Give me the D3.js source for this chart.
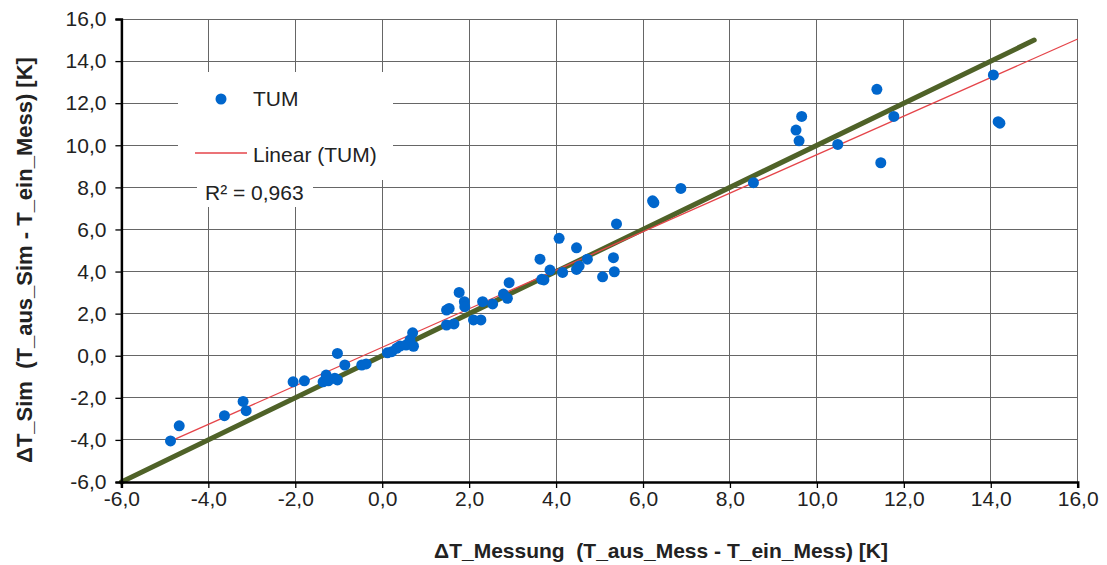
<!DOCTYPE html>
<html><head><meta charset="utf-8">
<script src="https://cdn.jsdelivr.net/npm/d3@7"></script>
<style>body{margin:0;background:#fff} text{font-family:Arial,"Liberation Sans",sans-serif;white-space:pre}</style>
</head><body><svg id="c" width="1107" height="565"></svg>
<script>
// ---- data ----
const xMeas = [-4.87,-4.67,-3.63,-3.20,-3.13,-2.05,-1.79,-1.36,-1.29,-1.24,-1.09,-1.03,-1.03,-0.86,-0.47,-0.37,
  0.12,0.22,0.33,0.41,0.55,0.64,0.70,0.72,1.48,1.54,1.48,1.65,1.77,1.89,1.90,2.10,2.27,2.31,2.54,2.79,2.88,2.92,
  3.63,3.67,3.72,3.86,4.07,4.15,4.47,4.47,4.53,4.72,5.07,5.32,5.34,5.39,6.22,6.25,6.87,8.54,
  9.65,9.52,9.59,10.48,11.38,11.77,11.47,14.06,14.17,14.21];
const ySim = [-4.05,-3.33,-2.85,-2.17,-2.61,-1.24,-1.19,-1.24,-0.92,-1.19,-1.07,-1.15,0.11,-0.44,-0.44,-0.39,
  0.14,0.19,0.35,0.46,0.51,0.75,1.09,0.45,2.17,2.25,1.46,1.51,3.01,2.57,2.33,1.70,1.70,2.57,2.46,2.93,2.73,3.47,
  4.59,3.63,3.60,4.07,5.58,3.96,5.13,4.10,4.26,4.59,3.75,4.66,3.99,6.26,7.36,7.27,7.95,8.22,
  11.37,10.72,10.21,10.04,12.66,11.37,9.17,13.34,11.12,11.05];
const xTicks = [-6,-4,-2,0,2,4,6,8,10,12,14,16];
const yTicks = [-6,-4,-2,0,2,4,6,8,10,12,14,16];
const diagX = [-6, 15];          // 1:1 reference line
const trendEndX = 16;            // trendline forecast end
const seriesName = "TUM";
const trendName = "Linear (TUM)";
const r2Label = "R² = 0,963";
const xTitle = "ΔT_Messung  (T_aus_Mess - T_ein_Mess) [K]";
const yTitle = "ΔT_Sim  (T_aus_Sim - T_ein_Mess) [K]";

// ---- layout ----
const svg = d3.select("#c");
const L = 121.4, R = 1077.7, T = 19, B = 482;
const x = d3.scaleLinear().domain([-6,16]).range([L,R]);
const y = d3.scaleLinear().domain([-6,16]).range([B,T]);
const loc = d3.formatLocale({decimal:",",thousands:".",grouping:[3],currency:["","€"],minus:"-"});
const fmt = loc.format(".1f");

// gridlines
const grid = svg.append("g").attr("stroke","#666").attr("stroke-width",1).attr("shape-rendering","crispEdges");
grid.selectAll("line.v").data(xTicks).join("line").attr("class","v")
  .attr("x1",d=>x(d)).attr("x2",d=>x(d)).attr("y1",T).attr("y2",B);
grid.selectAll("line.h").data(yTicks).join("line").attr("class","h")
  .attr("y1",d=>y(d)).attr("y2",d=>y(d)).attr("x1",L).attr("x2",R);

// 1:1 line
svg.append("line").attr("x1",x(diagX[0])).attr("y1",y(diagX[0])).attr("x2",x(diagX[1])).attr("y2",y(diagX[1]))
  .attr("stroke","#4f6228").attr("stroke-width",5).attr("stroke-linecap","round");

// linear trendline (least squares)
const n = xMeas.length, mx = d3.mean(xMeas), my = d3.mean(ySim);
let sxy=0,sxx=0; for(let i=0;i<n;i++){sxy+=(xMeas[i]-mx)*(ySim[i]-my);sxx+=(xMeas[i]-mx)**2;}
const slope = sxy/sxx, icpt = my - slope*mx;
const x0 = d3.min(xMeas);
svg.append("line").attr("x1",x(x0)).attr("y1",y(icpt+slope*x0)).attr("x2",x(trendEndX)).attr("y2",y(icpt+slope*trendEndX))
  .attr("stroke","#e5454a").attr("stroke-width",1.3);

// points
svg.append("g").selectAll("circle").data(xMeas.map((v,i)=>[v,ySim[i]])).join("circle")
  .attr("cx",d=>x(d[0])).attr("cy",d=>y(d[1])).attr("r",5.5).attr("fill","#0066cc");

// axes
const xa = svg.append("g").attr("transform",`translate(0,${B})`)
  .call(d3.axisBottom(x).tickValues(xTicks).tickFormat(fmt).tickSize(6).tickPadding(3));
const ya = svg.append("g").attr("transform",`translate(${L},0)`)
  .call(d3.axisLeft(y).tickValues(yTicks).tickFormat(fmt).tickSize(6).tickPadding(9));
[xa,ya].forEach(a=>{
  a.select(".domain").attr("stroke","#000").attr("stroke-width",2.5);
  a.selectAll(".tick line").attr("stroke","#000").attr("stroke-width",1.3);
  a.selectAll(".tick text").attr("fill","#222").style("font-size","21px").style("font-family","Arial, 'Liberation Sans', sans-serif");
});

// legend
svg.append("rect").attr("x",178).attr("y",72).attr("width",215).attr("height",108).attr("fill","#fff");
svg.append("circle").attr("cx",221).attr("cy",99).attr("r",5.5).attr("fill","#0066cc");
svg.append("text").attr("x",253).attr("y",106).attr("font-size",21).attr("fill","#222").text(seriesName);
svg.append("line").attr("x1",195).attr("x2",247).attr("y1",153).attr("y2",153).attr("stroke","#e5454a").attr("stroke-width",1.5);
svg.append("text").attr("x",253).attr("y",162).attr("font-size",21).attr("fill","#222").text(trendName);
svg.append("rect").attr("x",197).attr("y",178).attr("width",116).attr("height",29).attr("fill","#fff");
svg.append("text").attr("x",205).attr("y",200).attr("font-size",21).attr("fill","#222").text(r2Label);

// titles
svg.append("text").attr("x",661).attr("y",558).attr("text-anchor","middle")
  .attr("font-size",21).attr("font-weight","bold").attr("fill","#222").text(xTitle);
svg.append("text").attr("transform","translate(32,260) rotate(-90)").attr("text-anchor","middle")
  .attr("font-size",22).attr("font-weight","bold").attr("fill","#222").text(yTitle);
</script></body></html>
